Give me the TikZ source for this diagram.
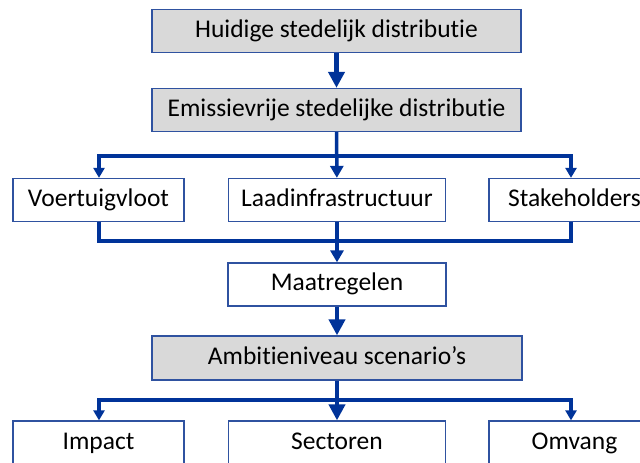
\documentclass[tikz,border=0pt]{standalone}
\usepackage{fontspec}
\setmainfont{Carlito}[Ligatures={NoCommon,NoContextual}]
\usepackage{tikz}
\usetikzlibrary{arrows.meta}
\definecolor{linkblue}{RGB}{0,51,153}
\definecolor{boxblue}{RGB}{47,82,160}
\definecolor{boxgray}{RGB}{217,217,217}

\begin{document}
\begin{tikzpicture}[x=1pt,y=-1pt,>={Triangle[width=11pt,length=10pt]},
		box/.style={draw=boxblue,line width=1.3pt,fill=white,minimum height=43pt,inner sep=0pt,text height=17pt,text depth=5pt,font=\fontsize{25.5}{28}\selectfont},
		grey/.style={box,fill=boxgray,minimum width=369pt},
		link/.style={draw=linkblue,line width=3.5pt},
		arr/.style={link,->},
		midarr/.style={link,-{Triangle[width=13pt,length=12pt]}},
		bigarr/.style={link,line width=4.5pt,-{Triangle[width=16pt,length=16pt]}}]
		\useasboundingbox (0,0) rectangle (640,463);
		% boxes
		\node[grey] (huidig) at (336.5,31) {Huidige stedelijk distributie};
		\node[grey] (emissie) at (336.5,110) {Emissievrije stedelijke distributie};
		\node[box,minimum width=171pt] (voertuig) at (98.5,200) {Voertuigvloot};
		\node[box,minimum width=217pt] (laad) at (337,200) {Laadinfrastructuur};
		\node[box,minimum width=171pt] (stake) at (574.5,200) {Stakeholders};
		\node[box,minimum width=218pt] (maat) at (337,284.5) {Maatregelen};
		\node[grey,minimum width=370pt,minimum height=44pt] (ambitie) at (337,358) {Ambitieniveau scenario’s};
		\node[box,minimum width=171pt,minimum height=44pt] (impact) at (98.5,443) {Impact};
		\node[box,minimum width=217pt,minimum height=44pt] (sector) at (337,443) {Sectoren};
		\node[box,minimum width=171pt,minimum height=44pt] (omvang) at (574.5,443) {Omvang};
		\coordinate (split) at (337,156);
		\coordinate (merge) at (337,241);
		\coordinate (split2) at (337,400);
		% connectors
		\draw[bigarr] (huidig) -- (emissie);
		\draw[midarr] (emissie) -- (laad);
		\draw[arr] (split) -| (voertuig.north -| 99,0);
		\draw[arr] (split) -| (stake.north -| 571,0);
		\draw[link] (voertuig.south -| 99,0) |- (merge);
		\draw[link] (stake.south -| 571,0) |- (merge);
		\draw[midarr] (laad) -- (maat);
		\draw[bigarr] (maat) -- (ambitie);
		\draw[bigarr] (ambitie) -- (sector);
		\draw[arr] (split2) -| (impact.north -| 99,0);
		\draw[arr] (split2) -| (omvang.north -| 571,0);
\end{tikzpicture}
\end{document}
